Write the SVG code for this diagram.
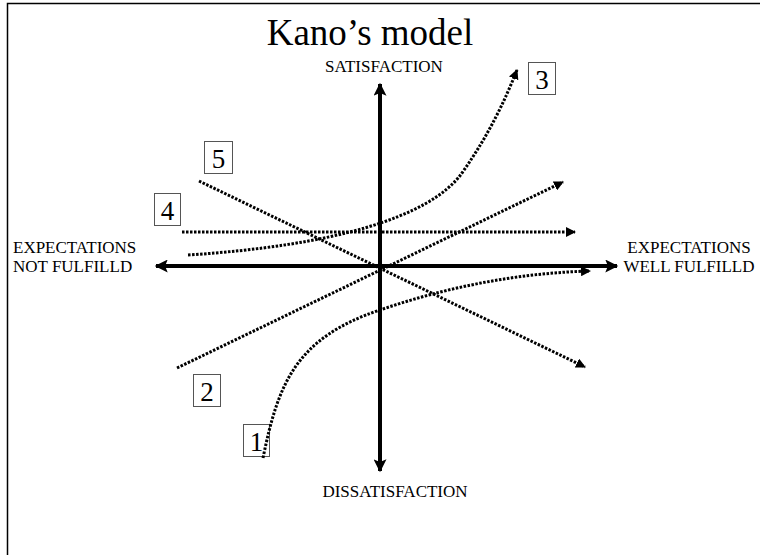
<svg xmlns="http://www.w3.org/2000/svg" width="760" height="555" viewBox="0 0 760 555">
<defs>
<marker id="ah" viewBox="0 0 10 10" refX="9" refY="5" markerWidth="10" markerHeight="10" markerUnits="userSpaceOnUse" orient="auto"><path d="M0,0 L10,5 L0,10 z" fill="#000"/></marker>
<marker id="axh" viewBox="0 0 10 10" refX="9" refY="5" markerWidth="14" markerHeight="13" markerUnits="userSpaceOnUse" orient="auto"><path d="M0,0 L10,5 L0,10 L2,5 z" fill="#000"/></marker>
<style>
.t{font-family:"Liberation Serif","Times New Roman",serif;fill:#000}
.lab{font-size:17px}
.axis{stroke:#000;stroke-width:4;fill:none}
.dot{stroke:#000;stroke-width:3;fill:none;stroke-dasharray:2.5 1.5;marker-end:url(#ah)}
.box rect{fill:#fff;stroke:#555;stroke-width:1}
.box text{font-size:27px;text-anchor:middle}
</style>
</defs>
<rect x="7.5" y="3.5" width="770" height="570" fill="#fff" stroke="#000" stroke-width="1.5"/>
<text class="t" x="370" y="45" font-size="37" text-anchor="middle">Kano’s model</text>
<g id="n1" class="box"><rect x="243.5" y="424.5" width="26" height="32"/><text class="t" x="256.5" y="451">1</text></g>
<g id="n2" class="box"><rect x="193.5" y="374.5" width="27" height="32"/><text class="t" x="207" y="401">2</text></g>
<g id="n3" class="box"><rect x="528.5" y="62.5" width="27" height="32"/><text class="t" x="542" y="89">3</text></g>
<g id="n4" class="box"><rect x="154.5" y="193.5" width="26" height="32"/><text class="t" x="167.5" y="220">4</text></g>
<g id="n5" class="box"><rect x="204.5" y="141.5" width="28" height="32"/><text class="t" x="218.5" y="168">5</text></g>
<g id="axes">
<line class="axis" x1="380" y1="466" x2="380" y2="84" marker-end="url(#axh)"/>
<line class="axis" x1="380" y1="266" x2="380" y2="471" marker-end="url(#axh)"/>
<line class="axis" x1="380" y1="266" x2="617" y2="266" marker-end="url(#axh)"/>
<line class="axis" x1="380" y1="266" x2="156" y2="266" marker-end="url(#axh)"/>
</g>
<g id="axis-labels">
<text class="t lab" x="384" y="72" text-anchor="middle">SATISFACTION</text>
<text class="t lab" x="395" y="497" text-anchor="middle">DISSATISFACTION</text>
<text class="t lab" x="13" y="253">EXPECTATIONS</text>
<text class="t lab" x="13" y="272">NOT FULFILLD</text>
<text class="t lab" x="689" y="253" text-anchor="middle">EXPECTATIONS</text>
<text class="t lab" x="689" y="272" text-anchor="middle">WELL FULFILLD</text>
</g>
<g id="connectors">
<path id="c1" class="dot" d="M263,458 C278,385 295,338 380,310 C450,286 520,273 590,271"/>
<path id="c2" class="dot" d="M177,368 L563,182"/>
<path id="c3" class="dot" d="M188,255 C330,246 430,218 462,173 C490,133 505,100 517,70"/>
<path id="c4" class="dot" d="M182,232 L575,232"/>
<path id="c5" class="dot" d="M199,181 L585,367"/>
</g>
</svg>
